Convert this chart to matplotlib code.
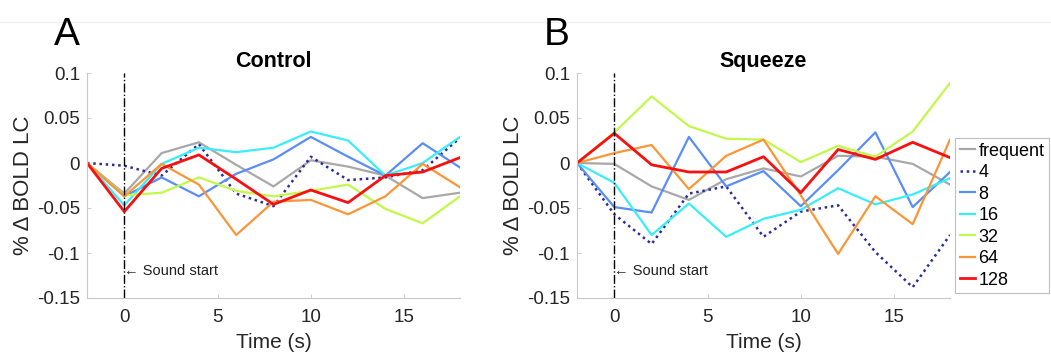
import matplotlib
matplotlib.use("Agg")
import matplotlib.pyplot as plt
from matplotlib.lines import Line2D

plt.rcParams['font.family'] = ['Liberation Sans', 'DejaVu Sans']

time = [-2, 0, 2, 4, 6, 8, 10, 12, 14, 16, 18]
labels = ['frequent', '4', '8', '16', '32', '64', '128']

control = {
    'frequent': [0, -0.034, 0.011, 0.023, -0.002, -0.026, 0.003, -0.004, -0.014, -0.039, -0.033],
    '4':        [0, -0.003, -0.014, 0.021, -0.034, -0.048, 0.007, -0.019, -0.016, -0.008, 0.028],
    '8':        [0, -0.037, -0.016, -0.037, -0.012, 0.004, 0.029, 0.007, -0.014, 0.022, -0.005],
    '16':       [0, -0.047, -0.001, 0.017, 0.012, 0.017, 0.035, 0.025, -0.014, 0.000, 0.029],
    '32':       [0, -0.036, -0.033, -0.016, -0.031, -0.037, -0.031, -0.024, -0.051, -0.067, -0.037],
    '64':       [0, -0.037, -0.001, -0.024, -0.080, -0.043, -0.041, -0.057, -0.037, -0.001, -0.027],
    '128':      [0, -0.054, -0.006, 0.009, -0.018, -0.046, -0.030, -0.044, -0.014, -0.010, 0.006],
}

squeeze = {
    'frequent': [0, -0.001, -0.026, -0.041, -0.018, -0.006, -0.015, 0.008, 0.007, -0.001, -0.024],
    '4':        [0, -0.057, -0.090, -0.034, -0.026, -0.082, -0.054, -0.047, -0.099, -0.138, -0.080],
    '8':        [0, -0.049, -0.055, 0.029, -0.026, -0.009, -0.048, -0.008, 0.034, -0.049, -0.010],
    '16':       [0, -0.022, -0.080, -0.045, -0.082, -0.062, -0.052, -0.028, -0.046, -0.035, -0.017],
    '32':       [0, 0.034, 0.074, 0.041, 0.027, 0.026, 0.001, 0.019, 0.007, 0.035, 0.089],
    '64':       [0, 0.011, 0.020, -0.029, 0.008, 0.026, -0.036, -0.101, -0.037, -0.068, 0.026],
    '128':      [0, 0.033, -0.002, -0.010, -0.010, 0.007, -0.033, 0.015, 0.004, 0.023, 0.006],
}

styles = {
    'frequent': dict(color='#a8a8a8', lw=1.6, ls='-'),
    '4':        dict(color='#2b2b9c', lw=1.8, ls=(0, (1, 1.5))),
    '8':        dict(color='#5a8ef6', lw=1.6, ls='-'),
    '16':       dict(color='#38eef8', lw=1.6, ls='-'),
    '32':       dict(color='#c2f84a', lw=1.6, ls='-'),
    '64':       dict(color='#fb9638', lw=1.6, ls='-'),
    '128':      dict(color='#f81010', lw=2.0, ls='-'),
}

fig = plt.figure(figsize=(10.51, 3.54), dpi=100)
fig.patch.set_facecolor('white')

# faint line at the very top of the image, behind everything
fig.add_artist(Line2D([0, 1], [1 - 22 / 354] * 2, color='#eeeeee', lw=0.8, zorder=-1))


def draw_panel(ax, data, title, letter):
    for name in labels:
        ax.plot(time, data[name], label=name, **styles[name])
    ax.axvline(0, color='black', lw=1.0, ls='-.')
    ax.text(0, -0.12, '\u2190 Sound start', fontsize=10.5, va='center', ha='left', color='#222222')
    ax.set_xlim(-2, 18)
    ax.set_ylim(-0.15, 0.1)
    ax.set_xticks([0, 5, 10, 15])
    ax.set_yticks([-0.15, -0.1, -0.05, 0, 0.05, 0.1])
    ax.set_yticklabels(['-0.15', '-0.1', '-0.05', '0', '0.05', '0.1'])
    ax.spines['top'].set_visible(False)
    ax.spines['right'].set_visible(False)
    for s in ('left', 'bottom'):
        ax.spines[s].set_color('#c8c8c8')
        ax.spines[s].set_linewidth(0.8)
    ax.tick_params(direction='in', length=3, width=0.6, color='#c8c8c8',
                   labelsize=13.5, labelcolor='#262626')
    ax.tick_params(axis='x', pad=8)
    ax.tick_params(axis='y', pad=5)
    ax.set_xlabel('Time (s)', fontsize=15, color='#262626', labelpad=5)
    ax.set_ylabel('% \u0394 BOLD LC', fontsize=16, color='#262626', labelpad=2)
    ax.set_title(title, fontsize=15.5, fontweight='bold', pad=4)
    ax.text(-0.088, 1.17, letter, transform=ax.transAxes, fontsize=28, ha='left', va='center')


ax1 = fig.add_axes([87 / 1051, 1 - 298 / 354, 373 / 1051, 225 / 354])
ax2 = fig.add_axes([577 / 1051, 1 - 298 / 354, 373 / 1051, 225 / 354])

draw_panel(ax1, control, 'Control', 'A')
draw_panel(ax2, squeeze, 'Squeeze', 'B')

handles, lbls = ax2.get_legend_handles_labels()
leg = fig.legend(handles, lbls, loc='upper left',
                 bbox_to_anchor=(955 / 1051, 1 - 138 / 354),
                 fontsize=13, frameon=True, fancybox=False,
                 handlelength=0.85, handletextpad=0.2, labelspacing=0.25,
                 borderpad=0.25, borderaxespad=0)
leg.get_frame().set_edgecolor('#b0b0b0')
leg.get_frame().set_linewidth(0.8)

fig.savefig('out.png', dpi=100, facecolor='white')
